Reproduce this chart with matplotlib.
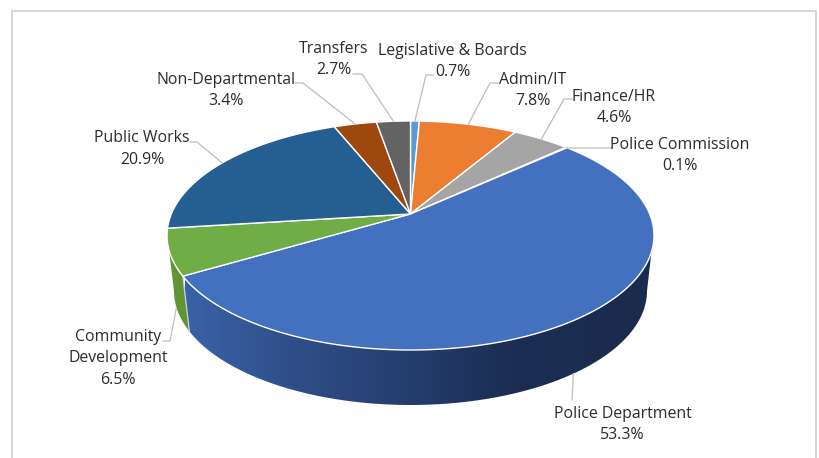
import numpy as np
import matplotlib as mpl
mpl.use("Agg")
import matplotlib.pyplot as plt
from matplotlib.colors import LinearSegmentedColormap
from matplotlib.patches import PathPatch, Rectangle
from matplotlib.path import Path

names = ["Legislative & Boards", "Admin/IT", "Finance/HR", "Police Commission",
         "Police Department", "Community\nDevelopment", "Public Works",
         "Non-Departmental", "Transfers"]
shares = [0.7, 7.8, 4.6, 0.1, 53.3, 6.5, 20.9, 3.4, 2.7]
colors = ["#5b9bd5", "#ed7d31", "#a5a5a5", "#ffc000", "#4371c0",
          "#70ad47", "#255e91", "#9e480e", "#636363"]

# label centre, leader elbow and the shelf end next to the text, in pixels
label_xy = [(452.5, 61.5), (533, 90.5), (614, 107.5), (680, 155.5), (622.5, 424.5),
            (118, 358.5), (142, 149), (226, 90.5), (334, 59.5)]
elbows = [(426, 75), (490, 83), (564, 99), (567, 148), (572, 400),
          (170, 341), (197, 142), (303, 83), (362, 74)]
shelves = [(433, 75), (498, 83), (572, 99), (612, 148), (572, 400),
           (163, 341), (190, 142), (295, 83), (353, 74)]

# ellipses of the pie's top and bottom faces
top = dict(cx=410.5, cy=235.5, a=243.5, b=114.5)
bottom = dict(cx=410.5, cy=291, a=236.5, b=114)
tilt = 0.188  # how far the pie's centre sits above the middle of the ellipse

fig = plt.figure(figsize=(8.19, 4.58), dpi=100)
ax = fig.add_axes([0, 0, 1, 1])
ax.axis("off")
ax.add_patch(Rectangle((11.5, 10.5), 804, 470, fc="white", ec="#d0d0d0", lw=1.2))


def rim(theta, face):
    # clockwise degrees from 12 o'clock -> pixel on the rim, with perspective
    t = np.radians(theta)
    x, y = np.sin(t), np.cos(t)
    d = 1 + tilt * y
    u = x * np.sqrt(1 - tilt**2) / d
    v = (y + tilt) / d
    return face["cx"] + face["a"] * u, face["cy"] - face["b"] * v


def angle_at(v):
    # right-hand rim angle whose height on the ellipse is v
    return np.degrees(np.arccos((v - tilt) / (1 - tilt * v)))


def wall_outline(start_top, end_top, start_bottom, end_bottom):
    tx, ty = rim(np.linspace(start_top, end_top, 200), top)
    bx, by = rim(np.linspace(start_bottom, end_bottom, 200), bottom)
    return np.r_[tx, bx[::-1]], np.r_[ty, by[::-1]]


edges = np.cumsum([0] + shares) / sum(shares) * 360
mids = (edges[:-1] + edges[1:]) / 2

# side wall of the Police Department slice, fading to dark on the right
wx, wy = wall_outline(angle_at(-0.144), edges[5], angle_at(0), edges[5])
wall = PathPatch(Path(np.c_[wx, wy]), fc="none", ec="none")
ax.add_patch(wall)
shade = LinearSegmentedColormap.from_list(
    "wall", [(0, "#3a62a8"), (0.22, "#304f8a"), (0.5, "#233c6b"),
             (0.7, "#1b2d52"), (1, "#1a2b4e")])
im = ax.imshow(np.linspace(0, 1, 256)[None, :], cmap=shade, aspect="auto",
               extent=[185, 655, 458, 0], zorder=2)
im.set_clip_path(wall)

# side wall of Community Development
wx, wy = wall_outline(edges[5], 360 - angle_at(-0.127), edges[5], 360 - angle_at(0))
ax.fill(wx, wy, color="#5f9535", lw=0, zorder=3)
tx0, ty0 = rim(edges[5], top)
bx0, by0 = rim(edges[5], bottom)
ax.plot([tx0, bx0], [ty0, by0], color="#c9d3de", lw=0.9, zorder=4)

# top face of the pie
cx0, cy0 = top["cx"], top["cy"] - top["b"] * tilt
for i, c in enumerate(colors):
    n = max(int(shares[i] * 4), 3)
    xs, ys = rim(np.linspace(edges[i], edges[i + 1], n), top)
    ax.fill(np.r_[cx0, xs], np.r_[cy0, ys], fc=c, ec="white", lw=1.0,
            joinstyle="round", zorder=5)

# leader lines and labels
for i, name in enumerate(names):
    face = bottom if i in (4, 5) else top
    end_x, end_y = rim(mids[i], face)
    ax.plot([shelves[i][0], elbows[i][0], end_x], [shelves[i][1], elbows[i][1], end_y],
            color="#bdbdbd", lw=0.9, zorder=6, solid_joinstyle="miter")
    ax.text(label_xy[i][0], label_xy[i][1], f"{name}\n{shares[i]}%", ha="center",
            va="center", ma="center", family="Open Sans", fontsize=11.4,
            color="#2b2b2b", linespacing=1.42, zorder=7)

ax.set_xlim(0, 819)
ax.set_ylim(458, 0)
fig.savefig("out.png", dpi=100)
print("complete!")
